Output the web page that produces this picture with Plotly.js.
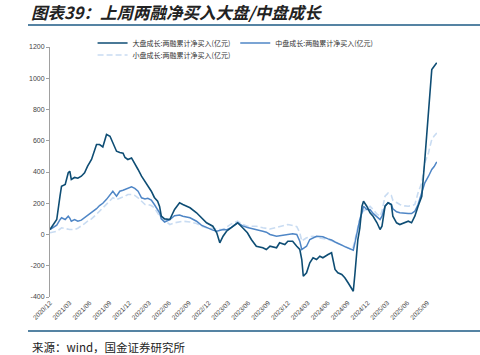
<!DOCTYPE html>
<html>
<head>
<meta charset="utf-8">
<script src="https://cdn.plot.ly/plotly-3.0.1.min.js"></script>
<style>html,body{margin:0;padding:0;background:#fff;}#chart{width:480px;height:355px;}</style>
</head>
<body>
<div id="chart"></div>
<script>
const dates = ['2020-12-01','2020-12-14','2021-01-01','2021-01-16','2021-01-23','2021-02-09','2021-02-23','2021-03-02','2021-03-09','2021-03-24',
'2021-04-08','2021-04-24','2021-05-09','2021-05-23','2021-06-10','2021-07-03','2021-07-17','2021-08-01','2021-08-18','2021-09-03',
'2021-09-16','2021-10-03','2021-10-18','2021-11-02','2021-11-11','2021-11-24','2021-12-11','2021-12-26','2022-01-10','2022-01-26',
'2022-02-11','2022-02-24','2022-03-12','2022-03-26','2022-04-10','2022-04-19','2022-04-27','2022-05-12','2022-06-05','2022-06-27',
'2022-07-20','2022-08-04','2022-09-06','2022-10-06','2022-10-28','2022-11-21','2022-12-20','2023-01-07','2023-01-21','2023-02-05',
'2023-02-21','2023-03-15','2023-04-13','2023-05-06','2023-05-28','2023-06-15','2023-07-08','2023-08-07','2023-08-23','2023-09-09',
'2023-10-09','2023-10-23','2023-11-16','2023-11-30','2023-12-22','2024-01-10','2024-01-24','2024-02-02','2024-02-09','2024-02-24',
'2024-03-10','2024-03-25','2024-04-10','2024-04-25','2024-05-09','2024-06-02','2024-06-18','2024-07-04','2024-07-17','2024-08-04',
'2024-08-18','2024-09-02','2024-09-19','2024-09-26','2024-10-04','2024-10-12','2024-10-17','2024-10-26','2024-11-05','2024-11-12',
'2024-11-27','2024-12-12','2024-12-26','2025-01-13','2025-01-27','2025-02-05','2025-02-19','2025-03-05','2025-03-20','2025-03-27',
'2025-04-13','2025-04-28','2025-05-21','2025-06-06','2025-06-21','2025-07-06','2025-07-21','2025-08-07','2025-08-21','2025-09-07',
'2025-09-14','2025-09-22','2025-10-03','2025-10-15'];

const largeGrowth = [32,60,96,245,309,320,395,405,352,365,
360,373,395,437,480,576,576,560,640,629,
589,533,525,520,493,480,490,448,416,373,
341,309,277,237,213,180,117,100,96,160,
203,192,171,139,107,75,53,11,-53,-11,
21,43,75,43,11,-32,-75,-85,-96,-75,
-85,-53,-64,-43,-43,-75,-96,-160,-267,-245,
-181,-149,-160,-139,-149,-128,-117,-224,-245,-256,
-277,-309,-352,-363,-245,-96,-32,40,181,213,
181,139,117,75,32,53,181,203,192,117,
75,64,75,85,75,117,181,245,480,757,
885,1056,1077,1099];

const midGrowth = [32,45,60,95,107,96,117,105,85,96,
85,92,107,125,139,165,185,200,225,250,
277,245,277,283,288,300,305,295,277,235,
228,232,220,192,160,139,100,80,96,120,
125,117,107,85,60,45,28,21,25,32,
30,45,75,55,45,40,32,21,15,0,
-11,-8,-3,3,5,0,-43,-96,-90,-75,
-32,-21,-11,-12,-15,-28,-35,-48,-55,-68,
-78,-88,-96,-100,-50,11,50,96,140,181,
160,160,135,110,96,117,181,203,192,165,
145,139,134,134,134,149,192,267,331,373,
395,416,435,465];

const smallGrowth = [11,16,21,35,43,38,32,32,32,32,
40,53,70,85,100,130,150,170,195,215,
235,224,230,240,245,256,256,250,235,215,
192,192,185,171,135,120,100,90,64,75,
82,85,80,70,53,43,38,32,32,32,
45,68,85,65,53,53,53,43,40,35,
45,50,58,64,58,50,11,-43,-35,-21,
-15,-11,-18,-21,-26,-32,-40,-50,-60,-70,
-80,-88,-96,-80,-32,30,53,100,139,150,
165,181,160,130,117,150,245,265,250,220,
205,192,183,181,185,192,267,331,459,523,
565,608,630,650];

const seriesNames = ['大盘成长:两融累计净买入(亿元)','中盘成长:两融累计净买入(亿元)','小盘成长:两融累计净买入(亿元)'];
const xTickVals = ['2020-12-01','2021-03-01','2021-06-01','2021-09-01','2021-12-01','2022-03-01','2022-06-01','2022-09-01','2022-12-01','2023-03-01',
'2023-06-01','2023-09-01','2023-12-01','2024-03-01','2024-06-01','2024-09-01','2024-12-01','2025-03-01','2025-06-01','2025-09-01'];
const xTickLabels = ['2020/12','2021/03','2021/06','2021/09','2021/12','2022/03','2022/06','2022/09','2022/12','2023/03',
'2023/06','2023/09','2023/12','2024/03','2024/06','2024/09','2024/12','2025/03','2025/06','2025/09'];
const yTickVals = [-400,-200,0,200,400,600,800,1000,1200];
const yTickLabels = ['-400','-200','0','200','400','600','800','1000','1200'];

const xRange = ['2020-12-01','2025-10-16'];
const cjk = '"Noto Sans CJK SC", sans-serif';
const latin = '"Liberation Sans", Arial, sans-serif';

const traces = [
  {x: dates, y: smallGrowth, name: seriesNames[2], type: 'scatter', mode: 'lines',
   line: {color: '#c9dcf2', width: 1.6, dash: '6px,3px'}, legend: 'legend2'},
  {x: dates, y: midGrowth, name: seriesNames[1], type: 'scatter', mode: 'lines',
   line: {color: '#4f86c6', width: 1.5}, legendrank: 2},
  {x: dates, y: largeGrowth, name: seriesNames[0], type: 'scatter', mode: 'lines',
   line: {color: '#0e4d74', width: 1.6}, legendrank: 1}
];

const legendFont = {family: cjk, size: 7, color: '#333'};
const layout = {
  width: 480, height: 355,
  margin: {l: 50, r: 43, t: 47, b: 58},
  paper_bgcolor: '#fff', plot_bgcolor: '#fff',
  showlegend: true,
  legend: {orientation: 'h', x: 0.11, xanchor: 'left', y: 254/250, yanchor: 'middle',
    font: legendFont, bgcolor: 'rgba(0,0,0,0)', itemwidth: 30, traceorder: 'normal'},
  legend2: {orientation: 'h', x: 0.11, xanchor: 'left', y: 242/250, yanchor: 'middle',
    font: legendFont, bgcolor: 'rgba(0,0,0,0)', itemwidth: 30},
  xaxis: {type: 'date', range: xRange, tickvals: xTickVals, ticktext: xTickLabels,
    tickangle: -45, showline: false, showgrid: false, zeroline: false, ticks: '',
    tickfont: {family: latin, size: 6.5, color: '#444'}},
  xaxis2: {type: 'date', range: xRange, overlaying: 'x', anchor: 'free', position: 0.25,
    tickvals: xTickVals, showticklabels: false, showline: true, linecolor: '#a0a0a0', linewidth: 1.2,
    ticks: 'outside', ticklen: 3, tickcolor: '#a0a0a0', showgrid: false, zeroline: false},
  yaxis: {range: [-400, 1200], tickvals: yTickVals, ticktext: yTickLabels,
    showline: true, linecolor: '#a0a0a0', linewidth: 1, ticks: 'outside', ticklen: 3, tickcolor: '#a0a0a0',
    showgrid: false, zeroline: false, tickfont: {family: latin, size: 7, color: '#444'}},
  title: {text: '图表39：上周两融净买入大盘/中盘成长', xref: 'container', yref: 'container',
    x: 31/480, xanchor: 'left', y: 1 - 13/355, yanchor: 'middle',
    font: {family: cjk, size: 16.5, color: '#222', style: 'italic', weight: 'bold'}},
  shapes: [
    {type: 'line', xref: 'paper', yref: 'paper', x0: -22/387, x1: 430/387, y0: 272/250, y1: 272/250,
     line: {color: '#1d5a85', width: 1.6}},
    {type: 'line', xref: 'paper', yref: 'paper', x0: -22/387, x1: 430/387, y0: -34/250, y1: -34/250,
     line: {color: '#1d5a85', width: 1.6}}
  ],
  annotations: [
    {text: '来源：wind，国金证券研究所', xref: 'paper', yref: 'paper', x: -20/387, y: -50/250,
     xanchor: 'left', yanchor: 'middle', showarrow: false, font: {family: cjk, size: 11.5, color: '#222'}},
    {text: '图', xref: 'paper', yref: 'paper', x: 433/387, y: 284/250,
     xanchor: 'left', yanchor: 'middle', showarrow: false, font: {family: cjk, size: 16, color: '#222', style: 'italic', weight: 'bold'}},
    {text: '来', xref: 'paper', yref: 'paper', x: 433/387, y: -50/250,
     xanchor: 'left', yanchor: 'middle', showarrow: false, font: {family: cjk, size: 11, color: '#222'}}
  ]
};

Plotly.newPlot('chart', traces, layout, {displayModeBar: false, staticPlot: true});
</script>
</body>
</html>
